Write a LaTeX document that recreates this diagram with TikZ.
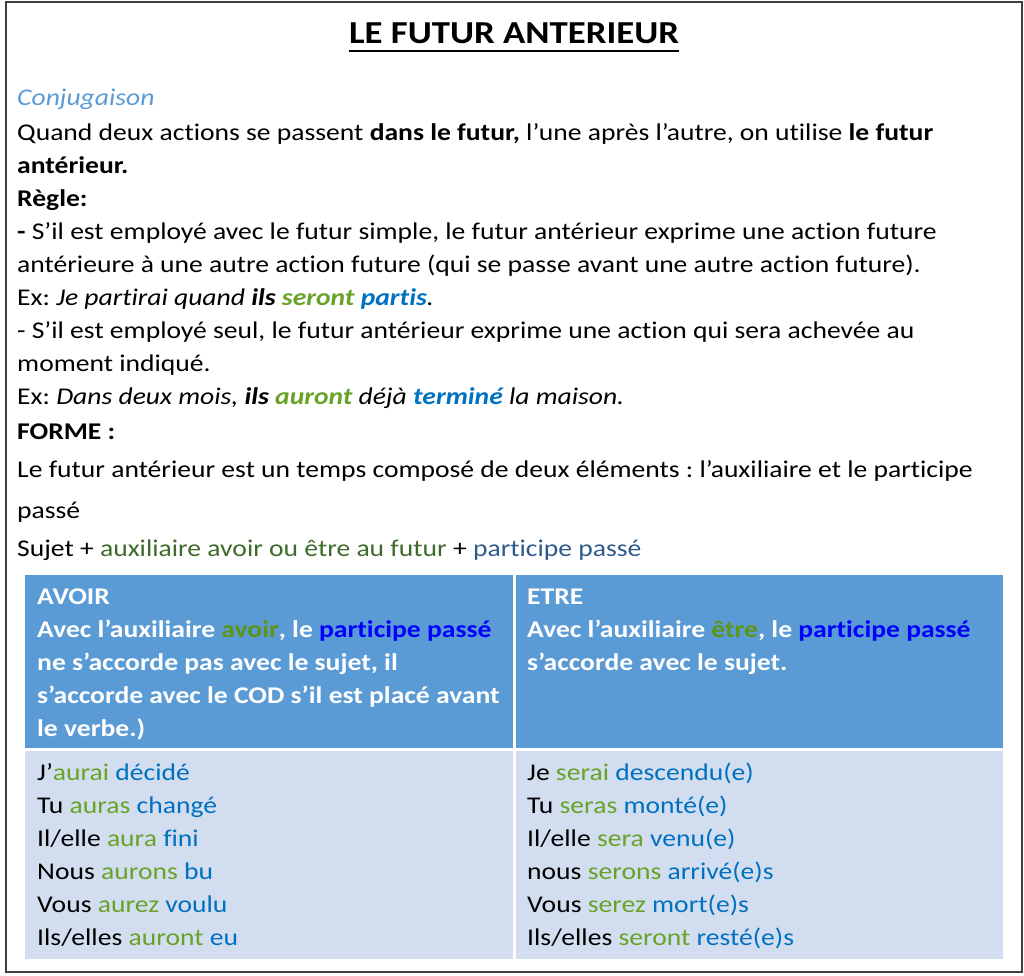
\documentclass[tikz,border=0pt]{standalone}
\usepackage{fontspec}
\setmainfont[FakeStretch=1.15, Ligatures=NoCommon]{Carlito}
\frenchspacing
\definecolor{conj}{HTML}{5B9BD5}
\definecolor{grn}{RGB}{104,163,40}
\definecolor{blu}{HTML}{0070C0}
\definecolor{hgrn}{RGB}{92,150,20}
\definecolor{hblu}{HTML}{0000FF}
\definecolor{dgrn}{HTML}{3D6B2A}
\definecolor{dblu}{HTML}{2E5B8C}
\definecolor{headfill}{HTML}{5B9BD5}
\definecolor{bodyfill}{HTML}{D2DEEF}
\definecolor{frame}{HTML}{404040}
\tikzset{
  txt/.style={anchor=base west, inner sep=0pt, font=\fontsize{24}{29}\selectfont},
  htxt/.style={txt, text=white, font=\fontsize{24}{29}\selectfont\bfseries},
  cellhead/.style={fill=headfill},
  cellbody/.style={fill=bodyfill}
}
\begin{document}
\begin{tikzpicture}[x=1pt,y=-1pt]
\useasboundingbox (0,0) rectangle (1024,975);
\draw[frame, line width=2pt] (6,2) rectangle (1022,972);
% title
\node[anchor=base, inner sep=0pt, font=\fontsize{32}{38}\selectfont\bfseries] (title) at (514,43) {LE FUTUR ANTERIEUR};
\draw[line width=2pt] ([yshift=-7.5pt]title.base west) -- ([yshift=-7.5pt]title.base east);
% body text
\node[txt, text=conj] (l0) at (17,105) {\itshape Conjugaison};
\node[txt] (l1) at (17,140) {Quand deux actions se passent \textbf{dans le futur,} l’une après l’autre, on utilise \textbf{le futur}};
\node[txt] (l2) at (17,173) {\textbf{antérieur.}};
\node[txt] (l3) at (17,206) {\textbf{Règle:}};
\node[txt] (l4) at (17,239) {\textbf{-} S’il est employé avec le futur simple, le futur antérieur exprime une action future};
\node[txt] (l5) at (17,272) {antérieure à une autre action future (qui se passe avant une autre action future).};
\node[txt] (l6) at (17,305) {Ex: \textit{Je partirai quand \textbf{ils} \textcolor{grn}{\textbf{seront}} \textcolor{blu}{\textbf{partis}}.}};
\node[txt] (l7) at (17,338) {- S’il est employé seul, le futur antérieur exprime une action qui sera achevée au};
\node[txt] (l8) at (17,371) {moment indiqué.};
\node[txt] (l9) at (17,404) {Ex: \textit{Dans deux mois, \textbf{ils} \textcolor{grn}{\textbf{auront}} déjà \textcolor{blu}{\textbf{terminé}} la maison.}};
\node[txt] (l10) at (17,439) {\textbf{FORME :}};
\node[txt] (l11) at (17,477) {Le futur antérieur est un temps composé de deux éléments : l’auxiliaire et le participe};
\node[txt] (l12) at (17,518) {passé};
\node[txt] (l13) at (17,556) {Sujet + \textcolor{dgrn}{auxiliaire avoir ou être au futur} + \textcolor{dblu}{participe passé}};
% table
\fill[cellhead] (25,575) rectangle (513,748);
\fill[cellhead] (516,575) rectangle (1003,748);
\fill[cellbody] (25,751) rectangle (513,959);
\fill[cellbody] (516,751) rectangle (1003,959);
% header left
\node[htxt] (a0) at (37,604) {AVOIR};
\node[htxt] (a1) at (37,637) {Avec l’auxiliaire \textcolor{hgrn}{avoir}, le \textcolor{hblu}{participe passé}};
\node[htxt] (a2) at (37,670) {ne s’accorde pas avec le sujet, il};
\node[htxt] (a3) at (37,703) {s’accorde avec le COD s’il est placé avant};
\node[htxt] (a4) at (37,736) {le verbe.)};
% header right
\node[htxt] (e0) at (527,604) {ETRE};
\node[htxt] (e1) at (527,637) {Avec l’auxiliaire \textcolor{hgrn}{être}, le \textcolor{hblu}{participe passé}};
\node[htxt] (e2) at (527,670) {s’accorde avec le sujet.};
% body left
\node[txt] (b1) at (37,780) {J’\textcolor{grn}{aurai} \textcolor{blu}{décidé}};
\node[txt] (b2) at (37,813) {Tu \textcolor{grn}{auras} \textcolor{blu}{changé}};
\node[txt] (b3) at (37,846) {Il/elle \textcolor{grn}{aura} \textcolor{blu}{fini}};
\node[txt] (b4) at (37,879) {Nous \textcolor{grn}{aurons} \textcolor{blu}{bu}};
\node[txt] (b5) at (37,912) {Vous \textcolor{grn}{aurez} \textcolor{blu}{voulu}};
\node[txt] (b6) at (37,945) {Ils/elles \textcolor{grn}{auront} \textcolor{blu}{eu}};
% body right
\node[txt] (c1) at (527,780) {Je \textcolor{grn}{serai} \textcolor{blu}{descendu(e)}};
\node[txt] (c2) at (527,813) {Tu \textcolor{grn}{seras} \textcolor{blu}{monté(e)}};
\node[txt] (c3) at (527,846) {Il/elle \textcolor{grn}{sera} \textcolor{blu}{venu(e)}};
\node[txt] (c4) at (527,879) {nous \textcolor{grn}{serons} \textcolor{blu}{arrivé(e)s}};
\node[txt] (c5) at (527,912) {Vous \textcolor{grn}{serez} \textcolor{blu}{mort(e)s}};
\node[txt] (c6) at (527,945) {Ils/elles \textcolor{grn}{seront} \textcolor{blu}{resté(e)s}};
\end{tikzpicture}
\end{document}
